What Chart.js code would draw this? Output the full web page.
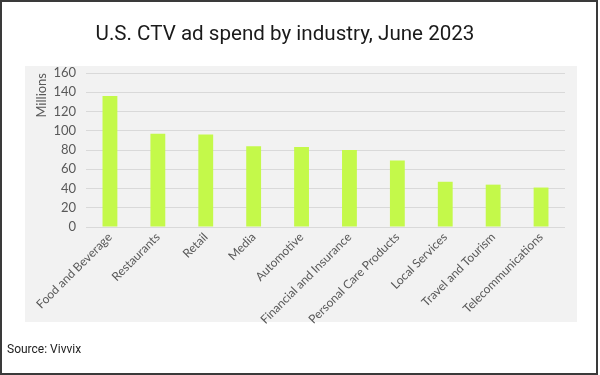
<!DOCTYPE html>
<html>
<head>
<meta charset="utf-8">
<script src="https://cdn.jsdelivr.net/npm/chart.js@4/dist/chart.umd.min.js"></script>
<style>
  html, body { margin: 0; padding: 0; background: #fff; }
  #wrap { width: 600px; height: 375px; }
</style>
</head>
<body>
<div id="wrap"><canvas id="ctvChart" width="600" height="375"></canvas></div>
<script>
// データ
const industries = [
    'Food and Beverage', 'Restaurants', 'Retail', 'Media', 'Automotive',
    'Financial and Insurance', 'Personal Care Products', 'Local Services',
    'Travel and Tourism', 'Telecommunications'
];
const spendMillions = [136, 97, 96, 84, 83, 80, 69, 47, 44, 41];
const yTicks = [0, 20, 40, 60, 80, 100, 120, 140, 160];

const chartTitle = 'U.S. CTV ad spend by industry, June 2023';
const sourceNote = 'Source: Vivvix';

// 枠・背景・タイトル
const framePlugin = {
    id: 'frame',
    beforeDraw(chart) {
        const ctx = chart.ctx;
        ctx.save();
        ctx.fillStyle = '#ffffff';
        ctx.fillRect(0, 0, chart.width, chart.height);
        ctx.fillStyle = '#f2f2f2';
        ctx.fillRect(25, 66, 552, 256);
        ctx.restore();
    },
    afterDraw(chart) {
        const ctx = chart.ctx;
        ctx.save();
        ctx.strokeStyle = '#3a3a3a';
        ctx.lineWidth = 2;
        ctx.strokeRect(1, 1, 596, 373);

        ctx.fillStyle = '#1a1a1a';
        ctx.font = '20.6px Roboto';
        ctx.textAlign = 'center';
        ctx.textBaseline = 'alphabetic';
        ctx.fillText(chartTitle, 285, 40);

        ctx.fillStyle = '#222222';
        ctx.font = '12px Roboto';
        ctx.textAlign = 'left';
        ctx.fillText(sourceNote, 7, 353);
        ctx.restore();
    }
};

new Chart(document.getElementById('ctvChart'), {
    type: 'bar',
    data: {
        labels: industries,
        datasets: [{
            label: 'Millions',
            data: spendMillions,
            backgroundColor: '#c4f94a',
            barPercentage: 0.62,
            categoryPercentage: 0.5
        }]
    },
    options: {
        responsive: false,
        animation: false,
        layout: {
            padding: { left: 30, right: 35, top: 73, bottom: 38 }
        },
        plugins: {
            legend: { display: false },
            tooltip: { enabled: false }
        },
        scales: {
            x: {
                grid: { display: false },
                border: { display: false },
                ticks: {
                    autoSkip: false,
                    minRotation: 45,
                    maxRotation: 45,
                    padding: -5,
                    color: '#595959',
                    font: { family: 'Lato', size: 12 }
                },
                afterFit(scale) { scale.height = 110; }
            },
            y: {
                min: 0,
                max: 160,
                afterBuildTicks(scale) {
                    scale.ticks = yTicks.map(v => ({ value: v }));
                },
                grid: { color: '#d9d9d9', drawTicks: false },
                border: { display: false },
                ticks: {
                    padding: 10,
                    color: '#595959',
                    font: { family: 'Lato', size: 13 }
                },
                title: {
                    display: true,
                    text: 'Millions',
                    align: 'end',
                    color: '#595959',
                    font: { family: 'Lato', size: 13 },
                    padding: { top: 4, bottom: 2 }
                },
                afterFit(scale) { scale.width = 56; }
            }
        }
    },
    plugins: [framePlugin]
});
</script>
</body>
</html>
